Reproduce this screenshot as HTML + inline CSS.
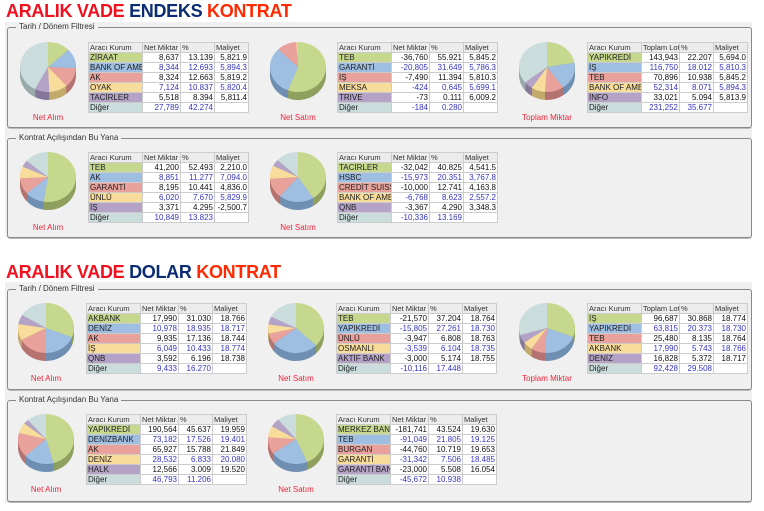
<!DOCTYPE html>
<html><head><meta charset="utf-8">
<style>
body{margin:0;width:764px;height:511px;background:#fff;position:relative;overflow:hidden;font-family:"Liberation Sans",sans-serif}
.title{position:absolute;left:6px;font-weight:bold;font-size:18px;letter-spacing:-0.3px}
.r{color:#f0101e}.b{color:#0b2c72}.o{color:#ff2a00}
.bg{position:absolute;left:5px;width:747px;background:#f0f0f0}
.fs{position:absolute;left:7px;width:743px;border:1px solid #888;border-radius:3px;box-shadow:0 1px 0 #bbb}
.fs span{position:absolute;left:8px;top:-6px;background:#f0f0f0;font-size:8px;color:#333;padding:0 3px}
table{position:absolute;border-collapse:collapse;font-size:8px;background:#fff;border:1px solid #bbb;table-layout:fixed;width:160px}
td{height:9px;line-height:9px;padding:0 1px;border:1px solid #ccc;white-space:nowrap;overflow:hidden}
td.n{text-align:right}
tr.h td{background:#ececec;color:#333;font-size:7.5px}
.lbl{position:absolute;font-size:8px;color:#f0243a;width:80px;text-align:center}
svg{position:absolute;left:0;top:0}
</style></head><body>
<div class="title" style="top:1px"><span class="r">ARALIK VADE</span> <span class="b">ENDEKS</span> <span class="o">KONTRAT</span></div>
<div class="title" style="top:262px"><span class="r">ARALIK VADE</span> <span class="b">DOLAR</span> <span class="o">KONTRAT</span></div>
<div class="bg" style="top:22px;height:215px"></div>
<div class="bg" style="top:282px;height:221px"></div>
<div class="fs" style="top:27px;height:99px"><span>Tarih / Dönem Filtresi</span></div>
<div class="fs" style="top:138px;height:98px"><span>Kontrat Açılışından Bu Yana</span></div>
<div class="fs" style="top:289px;height:99px"><span>Tarih / Dönem Filtresi</span></div>
<div class="fs" style="top:400px;height:100px"><span>Kontrat Açılışından Bu Yana</span></div>
<svg id="pies" width="764" height="511"></svg>
<div id="tables"></div>
<script>
const e1a_names=["ZİRAAT","BANK OF AME","AK","OYAK","TACİRLER","Diğer"];
const e1a_vals=["8,637","8,344","8,324","7,124","5,518","27,789"];
const e1a_pct=[13.139,12.693,12.663,10.837,8.394,42.274];
const e1a_cost=["5,821.9","5,894.3","5,819.2","5,820.4","5,811.4",""];
const e1s_names=["TEB","GARANTİ","İŞ","MEKSA","TRIVE","Diğer"];
const e1s_vals=["-36,760","-20,805","-7,490","-424","-73","-184"];
const e1s_pct=[55.921,31.649,11.394,0.645,0.111,0.280];
const e1s_cost=["5,845.2","5,786.3","5,810.3","5,699.1","6,009.2",""];
const e1t_names=["YAPIKREDİ","İŞ","TEB","BANK OF AME","İNFO","Diğer"];
const e1t_vals=["143,943","116,750","70,896","52,314","33,021","231,252"];
const e1t_pct=[22.207,18.012,10.938,8.071,5.094,35.677];
const e1t_cost=["5,694.0","5,810.3","5,845.2","5,894.3","5,813.9",""];
const e2a_names=["TEB","AK","GARANTİ","ÜNLÜ","İŞ","Diğer"];
const e2a_vals=["41,200","8,851","8,195","6,020","3,371","10,849"];
const e2a_pct=[52.493,11.277,10.441,7.670,4.295,13.823];
const e2a_cost=["2,210.0","7,094.0","4,836.0","5,829.9","-2,500.7",""];
const e2s_names=["TACİRLER","HSBC","CREDİT SUISS","BANK OF AME","QNB","Diğer"];
const e2s_vals=["-32,042","-15,973","-10,000","-6,768","-3,367","-10,336"];
const e2s_pct=[40.825,20.351,12.741,8.623,4.290,13.169];
const e2s_cost=["4,541.5","3,767.8","4,163.8","2,557.2","3,348.3",""];
const d1a_names=["AKBANK","DENİZ","AK","İŞ","QNB","Diğer"];
const d1a_vals=["17,990","10,978","9,935","6,049","3,592","9,433"];
const d1a_pct=[31.030,18.935,17.136,10.433,6.196,16.270];
const d1a_cost=["18.766","18.717","18.744","18.774","18.738",""];
const d1s_names=["TEB","YAPIKREDİ","ÜNLÜ","OSMANLI","AKTİF BANK","Diğer"];
const d1s_vals=["-21,570","-15,805","-3,947","-3,539","-3,000","-10,116"];
const d1s_pct=[37.204,27.261,6.808,6.104,5.174,17.448];
const d1s_cost=["18.764","18.730","18.763","18.735","18.755",""];
const d1t_names=["İŞ","YAPIKREDİ","TEB","AKBANK","DENİZ","Diğer"];
const d1t_vals=["96,687","63,815","25,480","17,990","16,828","92,428"];
const d1t_pct=[30.868,20.373,8.135,5.743,5.372,29.508];
const d1t_cost=["18.774","18.730","18.764","18.766","18.717",""];
const d2a_names=["YAPIKREDİ","DENİZBANK","AK","DENİZ","HALK","Diğer"];
const d2a_vals=["190,564","73,182","65,927","28,532","12,566","46,793"];
const d2a_pct=[45.637,17.526,15.788,6.833,3.009,11.206];
const d2a_cost=["19.959","19.401","21.849","20.080","19.520",""];
const d2s_names=["MERKEZ BANK","TEB","BURGAN","GARANTİ","GARANTİ BAN","Diğer"];
const d2s_vals=["-181,741","-91,049","-44,760","-31,342","-23,000","-45,672"];
const d2s_pct=[43.524,21.805,10.719,7.506,5.508,10.938];
const d2s_cost=["19.630","19.125","19.653","18.485","16.054",""];

const colors=["#c6d88e","#9ebfe2","#e9a19c","#f7dc9b","#b5a3c7","#cadcdc"];
const dark=["#8fa05e","#6f8fb2","#b57370","#c2aa6c","#85769a","#98aaaa"];
const blocks=[
 {id:"endeks-period-net-alim",n:e1a_names,v:e1a_vals,p:e1a_pct,c:e1a_cost,px:48,tx:88,ty:42,lbl:"Net Alım",h2:"Net Miktar"},
 {id:"endeks-period-net-satim",n:e1s_names,v:e1s_vals,p:e1s_pct,c:e1s_cost,px:298,tx:337,ty:42,lbl:"Net Satım",h2:"Net Miktar"},
 {id:"endeks-period-toplam",n:e1t_names,v:e1t_vals,p:e1t_pct,c:e1t_cost,px:547,tx:587,ty:42,lbl:"Toplam Miktar",h2:"Toplam Lot"},
 {id:"endeks-since-net-alim",n:e2a_names,v:e2a_vals,p:e2a_pct,c:e2a_cost,px:48,tx:88,ty:152,lbl:"Net Alım",h2:"Net Miktar"},
 {id:"endeks-since-net-satim",n:e2s_names,v:e2s_vals,p:e2s_pct,c:e2s_cost,px:298,tx:337,ty:152,lbl:"Net Satım",h2:"Net Miktar"},
 {id:"dolar-period-net-alim",n:d1a_names,v:d1a_vals,p:d1a_pct,c:d1a_cost,px:46,tx:86,ty:303,lbl:"Net Alım",h2:"Net Miktar"},
 {id:"dolar-period-net-satim",n:d1s_names,v:d1s_vals,p:d1s_pct,c:d1s_cost,px:296,tx:336,ty:303,lbl:"Net Satım",h2:"Net Miktar"},
 {id:"dolar-period-toplam",n:d1t_names,v:d1t_vals,p:d1t_pct,c:d1t_cost,px:547,tx:587,ty:303,lbl:"Toplam Miktar",h2:"Toplam Lot"},
 {id:"dolar-since-net-alim",n:d2a_names,v:d2a_vals,p:d2a_pct,c:d2a_cost,px:46,tx:86,ty:414,lbl:"Net Alım",h2:"Net Miktar"},
 {id:"dolar-since-net-satim",n:d2s_names,v:d2s_vals,p:d2s_pct,c:d2s_cost,px:296,tx:336,ty:414,lbl:"Net Satım",h2:"Net Miktar"}
];
const NS="http://www.w3.org/2000/svg";
const svg=document.getElementById("pies");
const tw=document.getElementById("tables");
function arc(cx,cy,rx,ry,a0,a1){
  const x0=cx+rx*Math.sin(a0),y0=cy-ry*Math.cos(a0),x1=cx+rx*Math.sin(a1),y1=cy-ry*Math.cos(a1);
  const large=(a1-a0)>Math.PI?1:0;
  return `M${cx},${cy}L${x0},${y0}A${rx},${ry} 0 ${large} 1 ${x1},${y1}Z`;
}
blocks.forEach(b=>{
  const cx=b.px,cy=b.ty+25,rx=28,ry=25,depth=8;
  const g=document.createElementNS(NS,"g");
  
  
  svg.appendChild(g);
  const tot=b.p.reduce((s,x)=>s+x,0);
  for(let d=depth;d>=0;d--){
    let a=0;
    b.p.forEach((val,i)=>{
      const a1=a+val/tot*2*Math.PI;
      const path=document.createElementNS(NS,"path");
      path.setAttribute("d",arc(cx,cy+d,rx,ry,a,Math.max(a1,a+0.0001)));
      path.setAttribute("fill",d===0?colors[i]:dark[i]);
      if(d===0){
        
        
      }
      g.appendChild(path);
      a=a1;
    });
  }
  const l=document.createElement("div");
  l.className="lbl";
  l.style.left=(cx-40)+"px";l.style.top=(b.ty+71)+"px";
  l.textContent=b.lbl;
  
  
  tw.appendChild(l);
  const t=document.createElement("table");
  t.style.left=b.tx+"px";t.style.top=b.ty+"px";
  
  
  let h=`<colgroup><col style="width:54px"><col style="width:38px"><col style="width:34px"><col style="width:34px"></colgroup><tr class="h"><td>Aracı Kurum</td><td>${b.h2}</td><td>%</td><td>Maliyet</td></tr>`;
  b.n.forEach((nm,i)=>{
    const col=i%2?"#3535c0":"#111";
    h+=`<tr><td style="background:${colors[i]};color:#222">${nm}</td><td class="n" style="color:${col}">${b.v[i]}</td><td class="n" style="color:${col}">${b.p[i].toFixed(3)}</td><td class="n" style="color:${col}">${b.c[i]}</td></tr>`;
  });
  t.innerHTML=h;
  tw.appendChild(t);
});
</script>
</body></html>
